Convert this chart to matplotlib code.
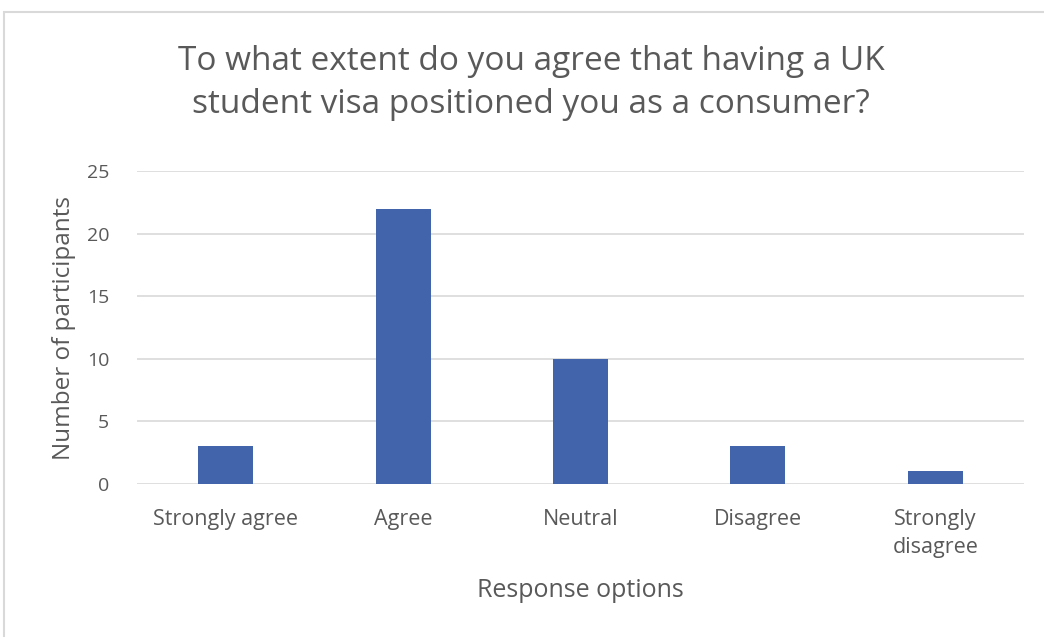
import matplotlib.pyplot as plt
from matplotlib.patches import Rectangle

# survey responses
categories = ['Strongly agree', 'Agree', 'Neutral', 'Disagree', 'Strongly\ndisagree']
counts = [3, 22, 10, 3, 1]
yticks = [0, 5, 10, 15, 20, 25]

plt.rcParams['font.family'] = ['Open Sans', 'DejaVu Sans']
text_color = '#595959'
grid_color = '#d9d9d9'
bar_color = '#4264ab'

fig = plt.figure(figsize=(10.44, 6.37), dpi=100)
W, H = 1044, 637

# chart area frame
fig.patches.append(Rectangle((4 / W, -0.05), 1.1, 1 - 12 / H + 0.05,
                             transform=fig.transFigure, fill=False,
                             edgecolor=grid_color, linewidth=1.5))

ax = fig.add_axes([137 / W, 1 - 484 / H, (1024 - 137) / W, (484 - 171) / H])

x = range(len(categories))
ax.bar(x, counts, width=0.31, color=bar_color, zorder=3)

ax.set_xlim(-0.5, len(categories) - 0.5)
ax.set_ylim(0, 25)
ax.set_yticks(yticks)
ax.set_xticks(list(x))
ax.set_xticklabels(categories, fontsize=15.5, color=text_color, linespacing=1.45)
ax.tick_params(axis='y', labelsize=14, labelcolor=text_color, length=0, pad=20)
ax.tick_params(axis='x', length=0, pad=18)

ax.grid(axis='y', color=grid_color, linewidth=1.2, zorder=0)
for s in ax.spines.values():
    s.set_visible(False)

ax.set_ylabel('Number of participants', fontsize=17.5, color=text_color, labelpad=8)
ax.set_xlabel('Response options', fontsize=18, color=text_color, labelpad=14)

fig.text(531 / W, 1 - 83 / H,
         'To what extent do you agree that having a UK\nstudent visa positioned you as a consumer?',
         ha='center', va='center', fontsize=24, color=text_color, linespacing=1.4)

fig.savefig('out.png', dpi=100)
